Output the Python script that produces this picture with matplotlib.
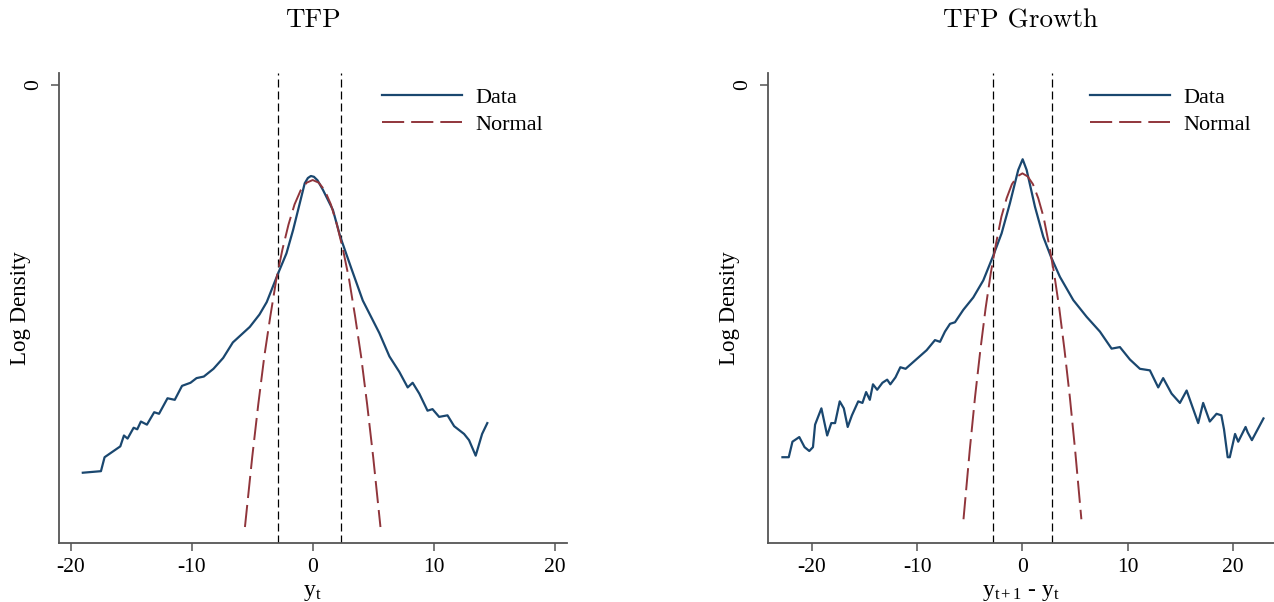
import numpy as np
import matplotlib
matplotlib.use("Agg")
import matplotlib.pyplot as plt

plt.rcParams['font.family'] = ['Liberation Serif', 'DejaVu Serif']
plt.rcParams['mathtext.fontset'] = 'custom'
plt.rcParams['mathtext.rm'] = 'Liberation Serif'
plt.rcParams['mathtext.it'] = 'Liberation Serif:italic'
plt.rcParams['axes.unicode_minus'] = False

# ---- data (log density) ----
tfp_x = [-19.0, -17.5, -17.2, -15.9, -15.6, -15.3, -14.8, -14.5, -14.2, -13.7,
         -13.1, -12.7, -12.0, -11.4, -10.8, -10.1, -9.6, -9.0, -8.2, -7.4,
         -6.6, -5.9, -5.2, -4.4, -3.8, -2.86, -2.17, -1.62, -1.07, -0.66,
         -0.4, -0.15, 0.1, 0.4, 0.85, 1.25, 1.67, 2.28, 3.18, 4.14, 5.51, 6.34, 7.16,
         7.85, 8.26, 8.81, 9.49, 9.9, 10.45, 11.14, 11.69, 12.51, 12.92,
         13.47, 14.0, 14.43]
tfp_y = [-2.50, -2.49, -2.40, -2.33, -2.26, -2.28, -2.21, -2.22, -2.17, -2.19,
         -2.11, -2.12, -2.02, -2.03, -1.94, -1.92, -1.89, -1.88, -1.83, -1.76,
         -1.66, -1.61, -1.56, -1.48, -1.40, -1.215, -1.086, -0.935, -0.763, -0.634,
         -0.60, -0.587, -0.592, -0.615, -0.677, -0.74, -0.806, -0.979, -1.18, -1.39, -1.60, -1.75, -1.85,
         -1.95, -1.92, -1.99, -2.10, -2.09, -2.14, -2.13, -2.20, -2.25, -2.29,
         -2.39, -2.25, -2.18]

growth_x = [-22.8, -22.2, -21.85, -21.2, -20.7, -20.25, -19.9, -19.7, -19.1, -18.55,
            -18.16, -17.8, -17.36, -16.97, -16.6, -16.2, -15.6, -15.2, -14.85, -14.5,
            -14.2, -13.8, -13.3, -12.85, -12.55, -12.06, -11.6, -11.1, -10.6, -10.1,
            -9.1, -8.31, -7.83, -7.36, -6.88, -6.41, -5.62, -4.67, -3.72, -2.77,
            -1.98, -1.19, -0.4, 0.02, 0.4, 1.19, 1.98, 2.71, 3.56, 4.83,
            6.1, 7.36, 8.47, 9.26, 10.21, 11.16, 12.11, 12.9, 13.37, 14.17,
            14.96, 15.6, 16.07, 16.7, 17.17, 17.8, 18.44, 18.9, 19.15, 19.5,
            19.7, 20.2, 20.5, 21.2, 21.4, 21.8, 22.9]
growth_y = [-2.40, -2.40, -2.30, -2.27, -2.335, -2.36, -2.335, -2.19, -2.085, -2.26,
            -2.18, -2.18, -2.04, -2.085, -2.205, -2.13, -2.04, -2.05, -1.98, -2.03,
            -1.93, -1.965, -1.92, -1.90, -1.93, -1.885, -1.82, -1.83, -1.80, -1.77,
            -1.71, -1.645, -1.656, -1.59, -1.54, -1.53, -1.45, -1.37, -1.26, -1.10,
            -0.957, -0.763, -0.548, -0.479, -0.548, -0.785, -0.979, -1.108, -1.237, -1.387,
            -1.495, -1.59, -1.70, -1.69, -1.77, -1.83, -1.84, -1.95, -1.89, -1.99,
            -2.05, -1.97, -2.06, -2.18, -2.05, -2.17, -2.12, -2.13, -2.22, -2.40,
            -2.40, -2.25, -2.30, -2.205, -2.24, -2.29, -2.15]

normal_x = [-5.6, -5.0, -4.5, -4.0, -3.5, -3.0, -2.5, -2.0, -1.5, -1.0, -0.5, 0.0,
            0.5, 1.0, 1.5, 2.0, 2.5, 3.0, 3.5, 4.0, 4.5, 5.0, 5.6]
tfp_normal_y = [-2.85, -2.40, -2.06, -1.75, -1.49, -1.25, -1.06, -0.90, -0.77, -0.68, -0.63, -0.613,
                -0.63, -0.68, -0.77, -0.90, -1.06, -1.25, -1.49, -1.75, -2.06, -2.40, -2.85]
growth_normal_y = [-2.80, -2.35, -2.01, -1.71, -1.44, -1.21, -1.02, -0.85, -0.73, -0.64, -0.59, -0.57,
                   -0.59, -0.64, -0.73, -0.85, -1.02, -1.21, -1.44, -1.71, -2.01, -2.35, -2.80]

tfp_vlines = [-2.86, 2.30]
growth_vlines = [-2.77, 2.77]

titles = ["TFP", "TFP Growth"]
xlabels = [r"$\mathrm{y_t}$", r"$\mathrm{y_{t+1}}$ - $\mathrm{y_t}$"]
xlims = [(-21.0, 21.0), (-24.2, 23.9)]
xticks = [-20, -10, 0, 10, 20]

navy = "#1a476f"
maroon = "#90353b"
spine_col = "#555555"

fig = plt.figure(figsize=(12.74, 6.02), dpi=100)
ax1 = fig.add_axes([0.046, 0.0988, 0.3989, 0.7794])
ax2 = fig.add_axes([0.6026, 0.0988, 0.3974, 0.7794])

panels = [
    (ax1, tfp_x, tfp_y, tfp_normal_y, tfp_vlines),
    (ax2, growth_x, growth_y, growth_normal_y, growth_vlines),
]

for i, (ax, dx, dy, ny, vl) in enumerate(panels):
    for v in vl:
        ax.axvline(v, color="black", lw=0.9, dashes=(6.4, 3.2))
    ax.plot(dx, dy, color=navy, lw=1.6, label="Data")
    ax.plot(normal_x, ny, color=maroon, lw=1.4, dashes=(11.4, 3.6), label="Normal")

    ax.set_xlim(*xlims[i])
    ax.set_ylim(-2.95, 0.075)
    ax.set_xticks(xticks)
    ax.set_yticks([0])
    ax.set_yticklabels(["0"], rotation=90, va="center")
    ax.tick_params(axis="both", labelsize=15.5, length=6, width=1.1,
                   color=spine_col, pad=5)
    ax.tick_params(axis="y", pad=5)
    for s in ["top", "right"]:
        ax.spines[s].set_visible(False)
    for s in ["left", "bottom"]:
        ax.spines[s].set_color(spine_col)
        ax.spines[s].set_linewidth(1.3)

    ax.set_ylabel("Log Density", fontsize=16.5)
    ax.yaxis.set_label_coords(-0.055, 0.5)
    ax.set_xlabel(xlabels[i], fontsize=17, labelpad=4)
    ax.set_title(titles[i], family="cmr10", fontsize=19.5, pad=33)

    ax.legend(loc="upper left", bbox_to_anchor=(0.636, 0.97), frameon=False,
              fontsize=16, borderpad=0, borderaxespad=0, handlelength=3.6,
              handletextpad=0.6, labelspacing=0.3)

fig.savefig("out.png", dpi=100)
